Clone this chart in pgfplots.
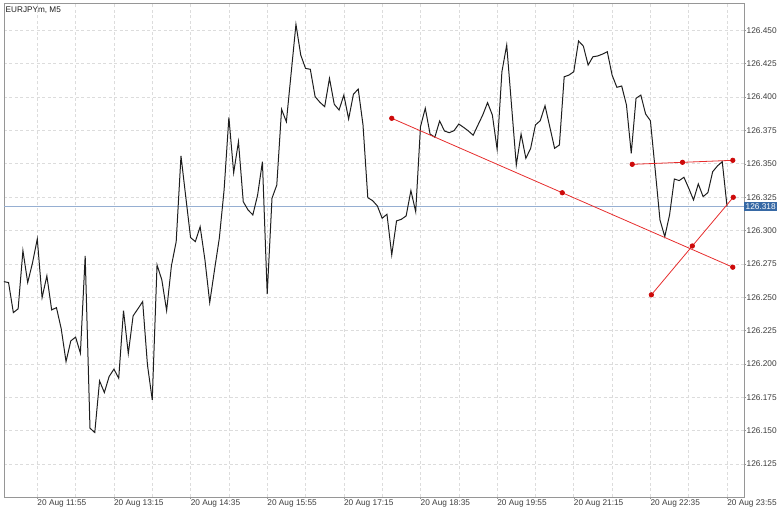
\documentclass[border=0pt]{standalone}
\usepackage{fontspec}
\setmainfont{Liberation Sans}
\usepackage{pgfplots}
\pgfplotsset{compat=1.18}
\definecolor{gridc}{RGB}{220,220,220}
\definecolor{axc}{RGB}{150,150,150}
\definecolor{pricec}{RGB}{150,175,210}
\definecolor{boxc}{RGB}{55,105,165}
\definecolor{redl}{RGB}{230,45,45}
\definecolor{redm}{RGB}{205,10,10}
\definecolor{linec}{RGB}{30,30,30}
\definecolor{textc}{RGB}{60,60,60}
\begin{document}
\begin{tikzpicture}
\begin{axis}[
  scale only axis, width=740bp, height=494bp,
  xmin=-6.95, xmax=147.54, ymin=126.1003, ymax=126.4705,
  axis line style={axc, line width=0.8bp},
  xtick={0,16,32,48,64,80,96,112,128,144},
  xticklabels={20 Aug 11:55,20 Aug 13:15,20 Aug 14:35,20 Aug 15:55,20 Aug 17:15,20 Aug 18:35,20 Aug 19:55,20 Aug 21:15,20 Aug 22:35,20 Aug 23:55},
  minor x tick num=1,
  ytick={126.125,126.150,126.175,126.200,126.225,126.250,126.275,126.300,126.325,126.350,126.375,126.400,126.425,126.450},
  scaled y ticks=false,
  /pgf/number format/fixed, /pgf/number format/fixed zerofill,
  /pgf/number format/precision=3, /pgf/number format/assume math mode=true,
  xtick pos=left, ytick pos=right,
  xticklabel pos=left, yticklabel pos=right,
  tick align=outside, major tick length=2bp, minor tick length=0pt,
  tick style={axc, line width=0.5bp},
  grid=both,
  major grid style={gridc, dash pattern=on 3bp off 2.5bp, line width=0.6bp},
  minor grid style={gridc, dash pattern=on 3bp off 2.5bp, line width=0.6bp},
  xticklabel style={anchor=north west, inner sep=0pt, yshift=-1bp, font=\fontsize{8.3bp}{10bp}\selectfont, text=textc},
  yticklabel style={anchor=west, inner sep=0pt, xshift=0.5bp, font=\fontsize{8.3bp}{10bp}\selectfont, text=textc},
  extra y ticks={126.318},
  extra y tick labels={126.318},
  extra y tick style={grid=none, major tick length=0pt,
    yticklabel style={fill=boxc, text=white, inner xsep=1.5bp, inner ysep=1.5bp, xshift=-0.5bp}},
  clip=true,
]
\addplot [pricec, line width=0.8bp] coordinates {(-6.95,126.318) (147.54,126.318)};
\addplot [linec, line width=1bp] coordinates {
(-7,126.2617) (-6,126.2610) (-5,126.2385) (-4,126.2413) (-3,126.2849) (-2,126.2610) (-1,126.2757)
(0,126.2937) (1,126.2497) (2,126.2660) (3,126.2405) (4,126.2422) (5,126.2263) (6,126.2018) (7,126.2173)
(8,126.2201) (9,126.2081) (10,126.2810) (11,126.1519) (12,126.1486) (13,126.1873) (14,126.1786) (15,126.1906)
(16,126.1961) (17,126.1893) (18,126.2400) (19,126.2078) (20,126.2360) (21,126.2413) (22,126.2467) (23,126.1993)
(24,126.1731) (25,126.2742) (26,126.2630) (27,126.2400) (28,126.2735) (29,126.2917) (30,126.3559) (31,126.3251)
(32,126.2947) (33,126.2917) (34,126.3029) (35,126.2780) (36,126.2460) (37,126.2705) (38,126.2942) (39,126.3304)
(40,126.3848) (41,126.3433) (42,126.3666) (43,126.3216) (44,126.3154) (45,126.3117) (46,126.3266) (47,126.3516)
(48,126.2523) (49,126.3242) (50,126.3341) (51,126.3908) (52,126.3815) (53,126.4180) (54,126.4545) (55,126.4315)
(56,126.4215) (57,126.4208) (58,126.4003) (59,126.3961) (60,126.3928) (61,126.4140) (62,126.3946) (63,126.3903)
(64,126.4015) (65,126.3836) (66,126.4021) (67,126.4060) (68,126.3791) (69,126.3246) (70,126.3224) (71,126.3184)
(72,126.3092) (73,126.3122) (74,126.2817) (75,126.3072) (76,126.3084) (77,126.3109) (78,126.3299) (79,126.3141)
(80,126.3778) (81,126.3916) (82,126.3723) (83,126.3699) (84,126.3821) (85,126.3746) (86,126.3733) (87,126.3748)
(88,126.3798) (89,126.3773) (90,126.3746) (91,126.3714) (92,126.3791) (93,126.3866) (94,126.3958) (95,126.3866)
(96,126.3609) (97,126.4190) (98,126.4390) (99,126.3941) (100,126.3491) (101,126.3723) (102,126.3541) (103,126.3616)
(104,126.3791) (105,126.3823) (106,126.3935) (107,126.3776) (108,126.3616) (109,126.3641) (110,126.4152) (111,126.4165)
(112,126.4190) (113,126.4420) (114,126.4382) (115,126.4240) (116,126.4302) (117,126.4308) (118,126.4322) (119,126.4340)
(120,126.4165) (121,126.4073) (122,126.4083) (123,126.3941) (124,126.3579) (125,126.3991) (126,126.4015) (127,126.3873)
(128,126.3823) (129,126.3454) (130,126.3079) (131,126.2954) (132,126.3117) (133,126.3386) (134,126.3374) (135,126.3399)
(136,126.3317) (137,126.3229) (138,126.3349) (139,126.3254) (140,126.3284) (141,126.3441) (142,126.3484) (143,126.3516)
(144,126.3180)
};
\addplot [redl, line width=0.8bp, mark=*, mark size=2.2bp, mark options={redm, fill=redm, solid}]
  coordinates {(74.0,126.3841) (109.6,126.3283) (145.2,126.2725)};
\addplot [redl, line width=0.8bp, mark=*, mark size=2.2bp, mark options={redm, fill=redm, solid}]
  coordinates {(124.2,126.3496) (134.7,126.3511) (145.2,126.3526)};
\addplot [redl, line width=0.8bp, mark=*, mark size=2.2bp, mark options={redm, fill=redm, solid}]
  coordinates {(128.2,126.2518) (136.75,126.2884) (145.3,126.3249)};
\node [anchor=north west, inner sep=0pt, font=\fontsize{8.2bp}{10bp}\selectfont, text=linec]
  at (rel axis cs:0,1) [xshift=1.5bp, yshift=-3.5bp] {EURJPYm, M5};
\end{axis}
\pgfresetboundingbox
\path[use as bounding box] ([shift={(-4bp,-10bp)}]current axis.south west) rectangle ([shift={(38bp,3bp)}]current axis.north east);
\end{tikzpicture}
\end{document}
